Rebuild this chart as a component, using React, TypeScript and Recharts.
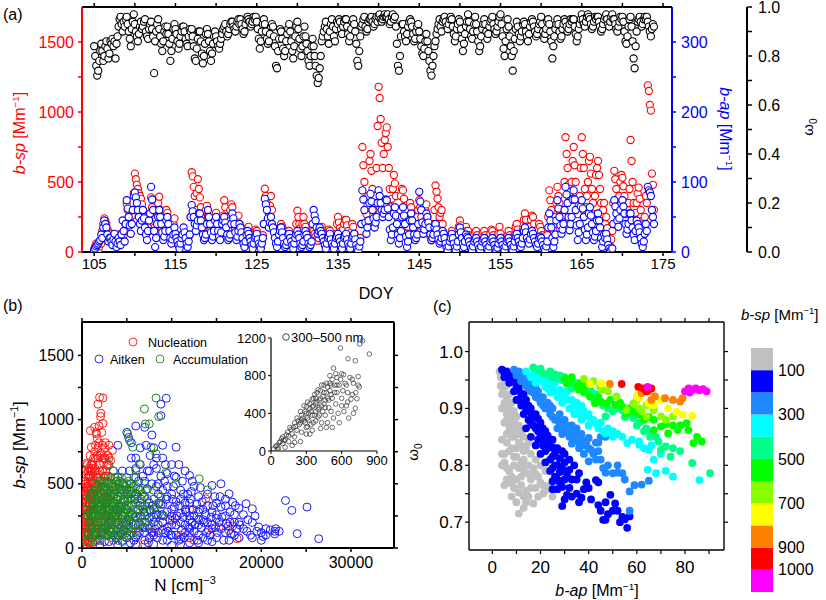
import React from "react";
import { ScatterChart, Scatter, XAxis, YAxis, BarChart, Bar } from "recharts";

const FONT = "Arial, 'Liberation Sans', Helvetica, sans-serif";

// ---------------- Panel (a): time series (8 readings per day) ----------------
const DAYS = [105,106,107,108,109,110,111,112,113,114,115,116,117,118,119,120,121,122,123,124,125,126,127,128,129,130,131,132,133,134,135,136,137,138,139,140,141,142,143,144,145,146,147,148,149,150,151,152,153,154,155,156,157,158,159,160,161,162,163,164,165,166,167,168,169,170,171,172,173];
const DAY_PARTS = [0, 0.125, 0.25, 0.375, 0.5, 0.625, 0.75, 0.875];

const BSP_A = [
  [20,40,60,30,10,40,80,60],[150,200,240,220,200,160,120,140],[130,110,100,120,110,95,90,100],[110,120,130,110,90,120,150,200],
  [345,300,250,220,200,260,300,420],[560,520,480,450,420,400,380,340],[300,250,200,230,250,180,150,200],[390,320,250,200,180,240,300,350],
  [395,300,200,160,130,180,250,300],[280,220,150,120,100,150,200,240],[130,100,60,50,40,70,100,120],[130,120,110,100,90,110,120,250],
  [570,540,465,400,300,420,520,450],[390,320,250,200,180,240,300,330],[250,200,150,120,100,150,200,230],[280,230,180,150,120,180,230,260],
  [370,320,250,200,155,220,300,340],[320,260,200,160,130,190,260,200],[180,150,120,100,80,120,150,170],[180,140,100,70,40,90,140,160],
  [150,110,80,60,40,80,120,200],[452,400,350,300,270,330,400,300],[180,150,120,100,80,120,150,170],[200,180,150,110,80,100,120,150],
  [150,120,100,80,60,90,120,200],[295,250,200,170,155,200,250,200],[180,140,100,80,60,100,140,160],[150,130,110,90,80,100,130,140],
  [180,150,120,90,60,100,140,160],[150,120,100,80,60,90,130,200],[250,210,170,150,130,160,200,230],[230,190,150,110,80,140,200,180],
  [130,100,80,60,40,70,100,200],[750,620,500,380,270,330,400,650],[700,580,450,300,180,400,600,900],[1180,1100,950,780,600,700,800,850],
  [890,750,600,450,320,380,450,550],[490,400,300,240,180,300,400,450],[440,380,300,200,130,180,250,350],[320,260,200,160,130,190,250,300],
  [370,320,250,180,130,220,300,340],[250,200,150,110,83,140,200,300],[475,430,380,320,250,280,300,200],[130,100,80,60,40,70,100,120],
  [150,120,100,80,60,90,120,180],[225,190,150,110,83,130,180,150],[150,120,100,80,60,90,120,140],[150,120,90,70,60,90,120,140],
  [150,120,100,80,60,100,130,160],[150,120,100,80,60,100,130,180],[130,100,80,70,60,80,100,120],[150,120,100,80,60,90,120,180],
  [200,160,130,100,80,120,160,230],[275,230,180,150,130,180,230,260],[250,200,150,130,110,160,200,180],[150,120,100,90,83,100,120,250],
  [440,370,300,220,155,200,250,350],[465,400,350,280,225,260,300,500],[820,700,600,480,370,430,500,650],[750,620,500,380,270,330,400,600],
  [820,700,600,450,320,400,500,650],[680,560,450,350,270,400,550,600],[650,550,450,350,270,300,350,200],[250,170,100,60,40,90,150,350],
  [580,520,450,380,320,400,500,550],[530,470,400,330,270,300,350,450],[800,650,500,350,230,280,350,420],[460,380,300,220,155,200,250,400],
  [350,1190,1150,1050,1010,560,480,300]
];

const BAP_A = [
  [3,5,8,10,12,15,17,25],[20,35,45,40,35,25,15,20],[20,15,10,18,26,15,7,12],[20,15,10,25,45,30,15,40],
  [74,62,50,38,26,40,60,80],[85,78,70,60,50,40,30,45],[60,48,35,25,17,30,45,55],[93,75,60,30,7,20,40,50],
  [60,50,40,28,17,22,30,45],[50,40,30,20,12,18,25,35],[26,20,15,10,5,12,20,25],[35,28,20,12,7,15,25,50],
  [67,58,50,40,30,38,45,55],[55,45,35,25,17,20,25,40],[60,50,40,28,17,22,30,45],[50,40,30,22,17,28,40,45],
  [50,42,35,25,17,20,25,40],[55,48,40,28,17,22,30,40],[35,28,20,12,7,15,25,30],[26,20,15,10,5,12,20,22],
  [26,18,12,8,5,12,20,40],[76,68,60,48,35,42,50,40],[35,28,20,12,7,15,25,30],[35,28,20,12,7,10,15,25],
  [26,20,15,10,5,12,20,25],[30,25,20,12,7,10,15,25],[30,25,20,12,7,10,15,40],[60,52,45,35,26,30,35,30],
  [26,20,15,10,5,12,20,22],[26,18,12,8,5,12,20,22],[26,20,15,10,5,12,20,22],[26,18,12,8,5,12,20,22],
  [26,18,10,5,2,8,15,40],[88,75,60,42,26,35,45,70],[83,72,60,48,35,42,50,70],[88,80,70,60,50,55,60,75],
  [74,62,50,32,17,25,35,55],[64,52,40,25,12,20,30,50],[64,52,40,22,7,15,25,45],[55,45,35,25,17,20,25,40],
  [86,72,60,42,26,32,40,55],[50,42,35,25,17,20,25,35],[40,32,25,18,12,15,20,30],[26,20,12,6,2,8,15,20],
  [26,20,12,6,2,8,15,25],[35,28,20,12,7,15,25,22],[20,15,10,5,2,8,15,18],[20,15,10,5,2,8,15,18],
  [20,15,10,5,2,8,15,18],[20,15,10,5,2,6,12,18],[20,15,10,5,2,8,15,18],[20,15,10,5,2,8,15,22],
  [26,20,15,10,7,12,20,30],[35,28,20,15,12,18,26,30],[26,20,15,10,7,12,20,22],[20,15,10,5,2,8,15,35],
  [55,45,35,20,7,15,25,45],[74,62,50,38,26,32,40,60],[93,82,70,50,31,40,50,75],[88,75,60,38,17,28,40,65],
  [74,62,50,32,17,25,35,55],[64,52,40,28,17,22,30,45],[55,45,35,20,7,15,25,20],[26,18,10,5,2,3,5,40],
  [74,65,55,45,36,48,60,70],[74,65,55,40,26,32,40,55],[55,45,35,25,17,30,45,40],[35,28,20,12,7,15,26,40],
  [30,93,88,85,80,60,50,40]
];

const OMEGA_A = [
  [0.84,0.80,0.76,0.72,0.74,0.78,0.82,0.85],[0.82,0.78,0.80,0.84,0.86,0.83,0.79,0.81],[0.86,0.85,0.87,0.84,0.86,0.79,0.85,0.88],
  [0.92,0.95,0.96,0.93,0.90,0.94,0.92,0.95],[0.96,0.93,0.90,0.87,0.84,0.91,0.94,0.97],[0.93,0.90,0.88,0.86,0.89,0.92,0.94,0.91],
  [0.92,0.94,0.95,0.90,0.88,0.87,0.91,0.93],[0.94,0.91,0.88,0.73,0.86,0.90,0.93,0.95],[0.91,0.88,0.85,0.82,0.86,0.90,0.92,0.89],
  [0.92,0.89,0.85,0.78,0.82,0.87,0.91,0.93],[0.91,0.89,0.86,0.83,0.85,0.88,0.90,0.92],[0.92,0.90,0.87,0.85,0.84,0.88,0.91,0.90],
  [0.91,0.88,0.84,0.79,0.78,0.83,0.87,0.90],[0.90,0.86,0.81,0.77,0.80,0.85,0.89,0.91],[0.89,0.86,0.82,0.78,0.81,0.85,0.88,0.90],
  [0.88,0.86,0.84,0.83,0.85,0.87,0.89,0.91],[0.92,0.93,0.90,0.88,0.89,0.91,0.93,0.94],[0.94,0.92,0.91,0.90,0.92,0.94,0.95,0.93],
  [0.95,0.93,0.91,0.89,0.90,0.93,0.95,0.96],[0.95,0.94,0.92,0.93,0.94,0.96,0.95,0.96],[0.94,0.91,0.87,0.83,0.86,0.90,0.93,0.95],
  [0.93,0.90,0.87,0.85,0.86,0.89,0.92,0.93],[0.92,0.88,0.84,0.76,0.75,0.82,0.87,0.91],[0.90,0.87,0.83,0.80,0.82,0.86,0.89,0.91],
  [0.93,0.90,0.86,0.82,0.79,0.84,0.88,0.92],[0.94,0.91,0.87,0.83,0.80,0.84,0.88,0.92],[0.88,0.85,0.82,0.78,0.76,0.80,0.84,0.87],
  [0.84,0.80,0.76,0.72,0.69,0.71,0.75,0.80],[0.86,0.88,0.90,0.92,0.94,0.91,0.88,0.85],[0.90,0.93,0.95,0.92,0.88,0.86,0.91,0.94],
  [0.93,0.95,0.94,0.91,0.89,0.92,0.94,0.95],[0.95,0.92,0.89,0.86,0.88,0.91,0.94,0.95],[0.93,0.90,0.85,0.78,0.76,0.82,0.88,0.92],
  [0.93,0.95,0.96,0.92,0.90,0.91,0.94,0.95],[0.95,0.96,0.94,0.92,0.93,0.95,0.96,0.94],[0.96,0.97,0.95,0.94,0.95,0.96,0.97,0.96],
  [0.96,0.97,0.95,0.93,0.94,0.96,0.97,0.95],[0.96,0.92,0.85,0.76,0.74,0.80,0.88,0.93],[0.93,0.90,0.88,0.86,0.89,0.92,0.94,0.95],
  [0.94,0.92,0.89,0.86,0.87,0.90,0.92,0.93],[0.90,0.87,0.84,0.81,0.80,0.83,0.86,0.89],[0.86,0.82,0.78,0.74,0.72,0.76,0.80,0.84],
  [0.86,0.89,0.91,0.93,0.95,0.92,0.90,0.94],[0.95,0.96,0.94,0.92,0.91,0.93,0.95,0.96],[0.95,0.92,0.89,0.86,0.88,0.91,0.93,0.95],
  [0.94,0.91,0.87,0.82,0.85,0.89,0.92,0.94],[0.97,0.94,0.91,0.88,0.87,0.90,0.93,0.96],[0.93,0.90,0.86,0.82,0.84,0.88,0.91,0.93],
  [0.95,0.93,0.90,0.87,0.89,0.92,0.94,0.95],[0.96,0.93,0.91,0.89,0.90,0.92,0.94,0.96],[0.97,0.93,0.88,0.83,0.80,0.86,0.91,0.95],
  [0.92,0.88,0.84,0.80,0.74,0.82,0.87,0.91],[0.94,0.92,0.89,0.86,0.88,0.90,0.93,0.94],[0.93,0.90,0.88,0.86,0.89,0.92,0.94,0.95],
  [0.94,0.92,0.90,0.88,0.89,0.91,0.93,0.94],[0.96,0.93,0.90,0.87,0.89,0.91,0.94,0.95],[0.93,0.90,0.86,0.79,0.84,0.88,0.91,0.93],
  [0.95,0.93,0.90,0.87,0.88,0.91,0.93,0.95],[0.94,0.92,0.90,0.91,0.93,0.95,0.94,0.95],[0.95,0.92,0.89,0.86,0.88,0.91,0.93,0.95],
  [0.97,0.95,0.93,0.92,0.94,0.96,0.97,0.96],[0.95,0.93,0.91,0.92,0.94,0.96,0.95,0.96],[0.96,0.94,0.92,0.90,0.91,0.93,0.95,0.96],
  [0.97,0.95,0.93,0.92,0.94,0.96,0.97,0.95],[0.95,0.93,0.91,0.90,0.92,0.94,0.96,0.95],[0.96,0.94,0.90,0.86,0.85,0.88,0.92,0.95],
  [0.96,0.92,0.86,0.79,0.75,0.84,0.90,0.94],[0.95,0.96,0.94,0.92,0.93,0.95,0.96,0.95],[0.96,0.94,0.92,0.90,0.88,0.91,0.93,0.92]
];

const A_X_TICKS = [105,110,115,120,125,130,135,140,145,150,155,160,165,170,175];
const A_SP_TICKS = [0,250,500,750,1000,1250,1500];
const A_AP_TICKS = [0,50,100,150,200,250,300];
const A_W_TICKS = [0,0.1,0.2,0.3,0.4,0.5,0.6,0.7,0.8,0.9,1.0];

// ---------------- Panel (b): b-sp vs N ----------------
const NUC = [
  [300,50],[500,120],[700,200],[400,300],[900,350],[600,450],[1100,500],[800,550],[1200,650],[1500,600],
  [1300,400],[1000,250],[1700,300],[2000,450],[1600,150],[2200,200],[2500,350],[1800,550],[2300,600],[2600,700],
  [1400,750],[1700,850],[1900,950],[1600,900],[2100,1050],[2330,1168],[1960,1173],[1780,1120],[2070,1023],[2330,970],
  [1400,940],[930,914],[1600,888],[1040,785],[1300,700],[2800,650],[3000,500],[2700,250],[3300,180],[3600,420],
  [1100,650],[900,600],[500,400],[300,250],[200,150],[700,50],[1200,80],[2000,60],[2900,100],[3500,60],
  [4000,300],[4500,200],[5000,80],[6000,150],[7000,30],[8000,120],[9000,200],[10100,215],[11000,100],[12000,300],
  [13800,383],[14500,150],[15300,163],[16400,137],[17300,72],[16800,170],[12500,60],[1500,470],[2800,450],[1000,180],
  [600,650],[2500,780],[3200,680],[1900,320],[2400,520],[3100,300],[2300,800],[1800,700],[800,280],[1400,220],
  [400,520],[700,380],[1200,300],[1500,380],[2100,280],[2600,560],[3400,760],[3000,800],[1000,420],[600,180],
  [150,80],[250,200],[350,350],[450,500],[550,250],[650,550],[750,150],[850,450],[950,300],[1050,600],
  [1150,200],[1250,520],[1350,330],[1450,620],[1550,260],[1650,480],[1750,180],[1850,400],[1950,650],[2050,300],
  [2150,520],[2250,380],[2350,700],[2450,240],[2550,450],[2650,600],[2750,160],[2850,380],[2950,560],[3050,220],
  [200,420],[300,600],[400,180],[500,660],[600,320],[700,480],[800,120],[900,720],[1000,560],[1100,380],
  [1200,540],[1300,160],[1400,440],[1500,700],[1600,340],[1700,580],[1800,120],[1900,480],[2000,720],[2100,160],
  [2200,420],[2300,280],[2400,660],[2500,100],[2600,400],[2700,520],[2800,260],[2900,720],[3000,380],[3200,450],
  [120,30],[250,100],[380,60],[520,30],[680,100],[820,40],[1000,80],[1150,40],[1300,120],[1600,60],
  [150,320],[200,470],[250,120],[300,380],[350,520],[400,230],[450,420],[500,610],[550,160],[600,350],
  [650,500],[700,280],[750,440],[800,620],[850,200],[900,380],[950,520],[1000,300],[1050,460],[1100,620],
  [1150,240],[1200,420],[1250,560],[1300,340],[150,200],[200,300],[250,420],[300,160],[350,260],[400,440],
  [450,90],[500,300],[550,480],[600,220],[650,400],[700,600],[750,100],[800,330],[850,560],[900,160],
  [950,420],[1000,650],[1100,160],[1200,320],[1300,480],[1400,600],[1500,800],[1700,720],[1900,820],[2200,900],
  [2500,700],[2700,560],[2900,640],[1600,550],[2000,600],[2400,480],[3000,700],[2600,820],[1800,780],[2100,740]
];

const AIT = [
  [1500,100],[2500,50],[3000,200],[3500,350],[4000,150],[4500,450],[5000,300],[5000,900],[5200,860],[5500,700],
  [6000,550],[6000,950],[6500,250],[6500,650],[7000,940],[7000,400],[7150,800],[7500,150],[7500,600],[8000,300],
  [8000,780],[8500,500],[8800,1120],[8800,1030],[9400,1166],[9000,200],[9000,700],[9500,400],[10000,100],[10000,300],
  [10500,785],[10500,550],[11000,200],[11000,450],[11500,350],[12000,565],[12000,150],[12500,250],[13000,400],[13000,100],
  [13500,300],[14000,200],[14500,487],[14500,50],[15000,350],[15500,500],[15500,150],[16000,250],[16400,422],[16800,357],
  [17000,100],[17500,200],[18000,150],[18300,345],[19000,305],[19000,80],[19700,163],[20000,120],[20500,150],[21000,140],
  [21600,150],[22000,130],[22700,370],[23400,293],[24000,111],[25100,319],[26400,72],[3000,50],[4000,20],[6000,80],
  [8000,30],[10000,20],[12000,40],[2000,20],[5500,150],[7000,250],[8500,120],[9500,60],[11000,70],[13000,180],
  [6000,420],[7500,350],[9000,450],[4500,600],[5500,500],[3500,600],[4000,800],[10000,650],[11500,600],[12500,480],
  [14000,420],[16000,380],[17500,310],[15000,80],[18500,220],[20000,60],[7000,120],[8000,200],[12000,250],[10500,180],
  [6500,330],[8500,260],[9500,160],[11500,120],[13500,220],[14500,280],[16500,200],[5000,120],[7000,520],[9000,340],
  [11000,380],[12000,80],[15000,230],[17000,260],[19500,130],[21500,110],[6000,700],[8000,650],[9500,580],[4000,250],
  [2500,150],[3000,300],[3500,100],[4000,400],[4500,250],[5000,80],[5500,330],[6000,180],[6500,450],[7000,60],
  [7500,230],[8000,380],[8500,180],[9000,60],[9500,280],[10000,420],[10500,100],[11000,270],[11500,180],[12000,350],
  [12500,130],[13000,280],[13500,80],[14000,330],[14500,180],[15000,260],[15500,320],[16000,120],[16500,280],[17000,200],
  [3200,400],[3800,260],[4300,120],[4800,360],[5300,220],[5800,60],[6300,300],[6800,160],[7300,460],[7800,120],
  [8300,260],[8800,340],[9300,120],[9800,220],[10300,320],[10800,60],[11300,240],[11800,420],[12300,200],[12800,340],
  [13300,160],[13800,260],[14300,100],[14800,400],[15300,200],[15800,60],[16300,170],[17300,150],[18000,260],[18800,100],
  [5000,500],[6000,620],[6800,560],[7600,720],[8300,620],[9200,520],[10200,480],[11200,520],[12200,440],[13200,470],
  [9000,800],[8300,700],[7800,880],[6500,780],[5500,820],[10800,650],[3500,480],[2800,350],[2200,120],[4500,50],
  [6000,30],[8000,100],[10000,180],[12000,220],[14000,60],[16000,330],[17500,80],[19000,200],[20500,100],[21500,130],
  [7000,330],[8500,420],[10500,360],[11500,300],[13000,220],[9500,480],[4000,550],[5500,420],[6500,180],[7500,80],
  [2600,250],[3100,130],[3600,420],[4100,320],[4600,140],[5100,420],[5600,260],[6100,100],[6600,380],[7100,200],
  [7600,300],[8100,150],[8600,350],[9100,250],[9600,130],[10100,380],[10600,250],[11100,140],[11600,280],[12100,380],
  [12600,180],[13100,300],[13600,200],[14100,140],[14600,330],[15100,120],[15600,240],[16100,190],[16600,110],[17100,330],
  [3300,200],[3900,80],[4400,320],[4900,200],[5400,40],[5900,380],[6400,120],[6900,280],[7400,40],[7900,330],
  [8400,80],[8900,260],[9400,380],[9900,100],[10400,230],[10900,330],[11400,80],[11900,160],[12400,300],[12900,60],
  [13400,360],[13900,120],[14400,240],[14900,160],[15400,400],[16400,60],[17600,180],[18400,130],[19300,250],[20200,90],
  [5300,600],[6300,520],[7300,600],[8300,480],[9300,650],[10300,560],[11300,420],[12300,520],[7800,500],[8800,560],
  [4000,100],[5000,180],[6000,240],[7000,160],[8000,240],[9000,140],[10000,250],[11000,30],[12000,120],[13000,40]
];

const ACC = [
  [500,50],[800,150],[1000,250],[1200,100],[1500,300],[1800,200],[2000,400],[2200,150],[2500,300],[2800,450],
  [3000,250],[3200,550],[3500,350],[3800,200],[4000,500],[4200,300],[4500,420],[4800,250],[5000,550],[5200,150],
  [5500,380],[6000,250],[6000,480],[6500,350],[7000,200],[7000,500],[7500,300],[8000,450],[8500,350],[9000,250],
  [9370,590],[10480,500],[13070,539],[14000,453],[8260,1168],[8550,1023],[6960,1083],[7070,966],[7500,966],[5100,888],
  [5300,837],[5660,785],[7700,785],[8260,733],[6400,655],[6000,603],[1500,500],[2500,550],[1000,400],[3000,650],
  [3500,600],[600,300],[2000,80],[3000,100],[4000,60],[1500,50],[2500,200],[3500,150],[4500,100],[5500,200],
  [800,350],[1700,420],[2700,380],[3700,480],[4700,380],[5700,300],[6700,420],[1300,200],[2300,280],[3300,420],
  [4300,220],[5300,450],[6300,180],[7300,380],[3800,520],[4400,550],[2800,320],[1200,320],[2000,250],[3000,380],
  [4000,350],[5000,330],[2600,480],[3600,260],[1800,350],[4600,280],[5800,400],[3200,220],[2200,350],[4200,430],
  [600,120],[700,250],[900,400],[1100,180],[1300,350],[1400,100],[1600,250],[1700,500],[1900,150],[2100,330],
  [2200,480],[2400,120],[2600,250],[2700,400],[2900,180],[3100,320],[3300,500],[3400,80],[3600,240],[3800,380],
  [3900,130],[4100,470],[4300,290],[4500,170],[4600,500],[4800,380],[5000,220],[5200,330],[5400,100],[5600,440],
  [5900,180],[6200,300],[6600,250],[6900,400],[7200,280],[7800,220],[8200,320],[8800,400],[1000,50],[1500,180],
  [2000,300],[2500,420],[3000,150],[3500,280],[4000,400],[4500,350],[5000,450],[5500,260],[6000,350],[2300,220],
  [1700,380],[1200,250],[800,200],[2800,520],[3300,250],[3700,100],[4200,150],[4700,200],[5200,520],[5800,550],
  [2600,350],[3200,380],[3600,420],[4000,200],[4400,250],[1400,420],[1900,250],[2400,380],[2900,280],[3400,320],
  [3900,300],[4400,460],[4900,300],[5400,380],[1100,300],[1600,150],[2100,200],[2600,120],[3100,450],[3600,350],
  [700,100],[900,220],[1100,420],[1300,280],[1500,120],[1700,320],[1900,460],[2100,100],[2300,380],[2500,520],
  [2700,180],[2900,420],[3100,240],[3300,120],[3500,450],[3700,300],[3900,520],[4100,180],[4300,380],[4500,60],
  [4700,450],[4900,150],[5100,380],[5300,260],[5500,120],[5700,480],[6100,420],[6400,200],[6800,300],[7400,180],
  [800,280],[1000,150],[1200,380],[1400,250],[1600,450],[1800,100],[2000,520],[2200,250],[2400,450],[2600,180],
  [2800,100],[3000,320],[3200,150],[3400,480],[3600,180],[3800,450],[4000,280],[4200,520],[4400,130],[4600,320],
  [4800,480],[5000,100],[5200,240],[5400,500],[5600,340],[5800,240],[6000,130],[6300,460],[6700,320],[7100,450],
  [1300,450],[1700,200],[2100,420],[2500,250],[2900,500],[3300,350],[3700,550],[4100,330],[4500,500],[4900,420],
  [1500,380],[1900,320],[2300,150],[2700,300],[3100,180],[3500,400],[3900,220],[4300,460],[4700,280],[5100,180]
];

const INSET = [
  [20,20],[40,50],[60,40],[80,100],[100,80],[100,150],[120,120],[140,200],[150,100],[160,250],
  [180,180],[200,300],[200,150],[220,350],[220,220],[240,280],[250,420],[260,200],[270,350],[280,480],
  [290,300],[300,400],[300,250],[310,520],[320,330],[330,450],[340,280],[350,550],[350,380],[360,480],
  [370,600],[380,320],[380,420],[390,520],[400,650],[400,360],[410,460],[420,560],[430,700],[430,300],
  [440,420],[450,620],[450,500],[460,380],[470,720],[480,560],[480,300],[490,460],[500,800],[500,640],
  [510,420],[520,560],[530,880],[530,350],[540,700],[550,500],[560,780],[560,620],[570,400],[580,300],
  [590,1093],[600,820],[600,560],[617,810],[630,720],[640,480],[650,620],[654,980],[660,350],[680,550],
  [700,400],[716,958],[716,454],[730,554],[740,790],[750,680],[753,1136],[778,1171],[835,1030],[690,760],
  [620,420],[580,700],[520,250],[470,250],[330,180],[250,100],[180,60],[120,40],[60,20],[300,180],
  [420,240],[200,90],[350,220],[260,330],[310,260],[360,300],[410,380],[460,540],[510,700],[380,560],
  [50,60],[70,90],[90,130],[110,110],[130,170],[150,160],[170,230],[190,250],[210,260],[230,320],
  [250,300],[260,380],[280,320],[290,420],[300,470],[310,350],[320,400],[330,500],[340,420],[350,470],
  [360,560],[370,380],[380,500],[390,620],[400,440],[410,540],[420,640],[430,480],[440,580],[450,700],
  [460,460],[470,620],[480,680],[490,540],[500,720],[510,600],[520,760],[540,620],[550,820],[560,700],
  [590,760],[610,640],[640,700],[670,780],[700,720],[720,620],[600,480],[650,520],[690,600],[740,700]
];

const B_X_TICKS = [0,5000,10000,15000,20000,25000,30000];
const B_Y_TICKS = [0,250,500,750,1000,1250,1500];
const INSET_X_TICKS = [0,300,600,900];
const INSET_Y_TICKS = [0,400,800,1200];

// ---------------- Panel (c): omega vs b-ap, coloured by b-sp class ----------------
const C_GRAY = [[3,0.965],[4,0.958],[5,0.95],[3.5,0.94],[6,0.94],[4,0.925],[7,0.925],[5,0.91],[8,0.91],[4,0.9],[9,0.895],[6,0.89],[10,0.885],[5,0.875],[8,0.87],[11,0.87],[7,0.86],[12,0.86],[4,0.845],[9,0.85],[13,0.85],[6,0.84],[11,0.84],[15,0.84],[8,0.83],[13,0.825],[5,0.82],[10,0.815],[16,0.82],[12,0.805],[18,0.81],[4,0.8],[9,0.8],[15,0.8],[20,0.8],[7,0.79],[13,0.79],[18,0.785],[22,0.79],[10,0.775],[16,0.775],[8,0.768],[12,0.765],[20,0.77],[14,0.755],[18,0.76],[24,0.765],[11,0.752],[21,0.75],[25,0.745],[15,0.745],[17,0.733],[13,0.725],[11,0.715],[6,0.795],[5,0.765],
  [3.5,0.955],[4.5,0.935],[6,0.92],[5,0.9],[7,0.9],[6,0.88],[8,0.885],[9,0.875],[7,0.87],[10,0.86],[6,0.855],[8,0.85],[11,0.855],[10,0.83],[12,0.835],[14,0.83],[7,0.825],[9,0.815],[13,0.81],[14,0.8],[17,0.795],[11,0.795],[8,0.78],[15,0.785],[19,0.78],[12,0.78],[21,0.765],[16,0.76],[9,0.76],[13,0.745],[19,0.745],[22,0.755],[10,0.735],[14,0.735],[5,0.805],[4,0.82],[6,0.775],[8,0.745]];
const C_BLUE = [[4,0.968],[6,0.965],[8,0.96],[5,0.955],[9,0.95],[7,0.945],[11,0.94],[9,0.93],[13,0.925],[10,0.915],[14,0.915],[12,0.905],[16,0.9],[13,0.89],[18,0.89],[15,0.88],[20,0.875],[17,0.87],[14,0.865],[19,0.86],[22,0.86],[16,0.85],[21,0.845],[25,0.845],[18,0.835],[23,0.83],[27,0.83],[20,0.82],[25,0.815],[30,0.82],[22,0.805],[27,0.8],[32,0.81],[24,0.79],[29,0.795],[34,0.8],[26,0.78],[31,0.785],[25,0.772],[36,0.786],[28,0.77],[33,0.775],[39,0.77],[25,0.758],[27,0.758],[38,0.758],[30,0.74],[33,0.745],[37,0.743],[43,0.774],[44,0.77],[44,0.73],[45,0.72],[46,0.704],[48,0.714],[49,0.748],[47,0.704],[51,0.733],[53,0.7],[54,0.709],[55,0.705],[56,0.69],[29,0.728],
  [5,0.962],[7,0.955],[8,0.948],[10,0.94],[11,0.932],[12,0.925],[11,0.915],[13,0.91],[15,0.905],[14,0.895],[16,0.892],[17,0.885],[19,0.882],[16,0.875],[18,0.865],[21,0.865],[20,0.855],[23,0.852],[19,0.845],[23,0.84],[21,0.835],[25,0.832],[22,0.825],[26,0.822],[29,0.825],[24,0.81],[28,0.812],[26,0.8],[30,0.805],[25,0.795],[28,0.788],[32,0.792],[27,0.775],[30,0.775],[35,0.775],[29,0.762],[32,0.76],[35,0.75],[40,0.76],[31,0.748],[36,0.735],[41,0.74],[47,0.735],[50,0.72],[52,0.72],[57,0.71]];
const C_DODGER = [[9,0.968],[11,0.965],[13,0.962],[12,0.955],[15,0.95],[14,0.94],[17,0.94],[16,0.93],[19,0.93],[18,0.92],[21,0.92],[20,0.91],[23,0.91],[22,0.9],[25,0.9],[24,0.89],[28,0.89],[26,0.88],[30,0.88],[28,0.87],[33,0.87],[30,0.86],[35,0.865],[32,0.85],[37,0.855],[35,0.845],[40,0.848],[38,0.835],[43,0.84],[45,0.85],[47,0.85],[41,0.827],[40,0.807],[44,0.84],[47,0.787],[50,0.786],[52,0.787],[54,0.786],[57,0.754],[57,0.72],[62,0.766],[65,0.773],[36,0.84],[42,0.82],[34,0.855],
  [10,0.958],[12,0.948],[14,0.948],[15,0.935],[17,0.928],[18,0.935],[19,0.918],[21,0.905],[23,0.9],[24,0.905],[25,0.885],[27,0.88],[29,0.875],[27,0.865],[31,0.87],[32,0.86],[29,0.855],[34,0.845],[37,0.845],[39,0.84],[33,0.838],[36,0.83],[40,0.83],[38,0.82],[44,0.825],[45,0.81],[48,0.8],[43,0.81],[52,0.8],[55,0.775],[59,0.765],[46,0.795]];
const C_CYAN = [[14,0.965],[17,0.96],[19,0.955],[18,0.945],[21,0.948],[22,0.938],[25,0.94],[24,0.928],[28,0.933],[27,0.92],[30,0.922],[29,0.91],[33,0.915],[32,0.9],[35,0.91],[34,0.89],[38,0.895],[37,0.88],[39,0.886],[41,0.88],[40,0.87],[43,0.874],[44,0.865],[46,0.86],[47,0.856],[50,0.85],[54,0.85],[56,0.839],[61,0.836],[61,0.842],[63,0.83],[65,0.827],[67,0.81],[68,0.786],[64.5,0.792],[75,0.78],[86,0.774],[26,0.945],[31,0.93],[36,0.9],
  [16,0.955],[20,0.952],[23,0.95],[23,0.935],[26,0.93],[29,0.925],[31,0.915],[34,0.905],[37,0.905],[36,0.89],[40,0.89],[42,0.88],[45,0.875],[48,0.865],[50,0.86],[52,0.855],[58,0.845],[66,0.835],[70,0.82],[72,0.79]];
const C_SPRING = [[17,0.972],[19,0.968],[21,0.962],[23,0.96],[25,0.955],[27,0.953],[29,0.95],[31,0.945],[34,0.944],[33,0.935],[36,0.935],[38,0.928],[40,0.925],[42,0.917],[44,0.912],[46,0.905],[47,0.886],[50,0.895],[54,0.897],[56,0.89],[58.5,0.883],[61,0.875],[64,0.865],[65.5,0.85],[69,0.842],[72,0.833],[70,0.827],[74,0.815],[83,0.804],[90.4,0.786],[52,0.9],[66,0.858],
  [20,0.97],[24,0.965],[26,0.96],[28,0.958],[30,0.955],[32,0.95],[35,0.945],[37,0.94],[41,0.93],[43,0.925],[48,0.9],[55,0.885],[60,0.87],[63,0.86],[68,0.85],[75,0.83],[78,0.825]];
const C_GREEN = [[30,0.953],[32,0.95],[31,0.944],[35,0.94],[36,0.933],[38,0.93],[40.5,0.921],[42.6,0.909],[45,0.912],[47.4,0.909],[51,0.906],[54,0.903],[55.7,0.891],[58.5,0.894],[61,0.889],[63,0.88],[67,0.88],[67,0.862],[70,0.868],[73,0.856],[77,0.862],[80.7,0.874],[81.4,0.862],[83.5,0.839],[87,0.842],[75,0.87],
  [33,0.955],[37,0.945],[39,0.94],[44,0.92],[49,0.915],[53,0.91],[57,0.9],[60,0.895],[65,0.885],[72,0.872],[78,0.87],[85,0.85]];
const C_CHART = [[38,0.952],[42,0.948],[44.7,0.938],[46,0.933],[51.6,0.921],[55.7,0.897],[58.5,0.909],[60,0.915],[61,0.9],[64,0.906],[64,0.886],[67,0.897],[70,0.886],[72,0.88],[75,0.886],[62,0.895],[48,0.93]];
const C_YELLOW = [[40.5,0.943],[45.4,0.944],[60,0.922],[61,0.918],[64.8,0.909],[67,0.906],[70,0.915],[73,0.9],[76.5,0.894],[79,0.889],[83,0.887]];
const C_ORANGE = [[48.8,0.943],[62,0.927],[64.8,0.93],[66,0.915],[67.5,0.921],[71.7,0.918],[75,0.915],[78,0.912],[79,0.918]];
const C_RED = [[53.7,0.943],[60.6,0.938],[62.7,0.935],[64,0.93],[66,0.935]];
const C_MAGENTA = [[64.5,0.938],[80,0.93],[81.5,0.935],[83,0.933],[84.5,0.935],[86,0.932],[87.5,0.934],[89,0.93],[82,0.928]];

const C_CLASSES = [C_GRAY, C_BLUE, C_DODGER, C_CYAN, C_SPRING, C_GREEN, C_CHART, C_YELLOW, C_ORANGE, C_RED, C_MAGENTA];
const C_COLORS = ["#c0c0c0", "#0000ff", "#1e88ff", "#00ffff", "#00ff88", "#00ff00", "#88ff00", "#ffff00", "#ff8000", "#ff0000", "#ff00ff"];
const C_X_TICKS = [0,10,20,30,40,50,60,70,80,90];
const C_Y_TICKS = [0.7,0.75,0.8,0.85,0.9,0.95,1.0];

const CB_TICKS = [1, 2, 4, 6, 8, 10];
const CB_LABELS = ["1000", "900", "700", "500", "300", "100"];

// ---------------- helpers ----------------
const toXY = (arr: number[][]) => arr.map(([x, y]) => ({ x, y }));
const dailySeries = (vals: number[][]) =>
  DAYS.flatMap((d, i) => vals[i].map((v, j) => ({ x: d + DAY_PARTS[j], y: v })));

const ring = (stroke: string, r: number, sw: number, fill: string) => (p: any) => (
  <circle cx={p.cx} cy={p.cy} r={r} fill={fill} stroke={stroke} strokeWidth={sw} />
);
const ball = (fill: string) => (p: any) => <circle cx={p.cx} cy={p.cy} r={3.9} fill={fill} stroke="none" />;

const blank = () => "";
const tickFont = (size: number, fill = "#000") => ({ fill, fontSize: size, fontFamily: FONT });

const MmSup = ({ italic, size, sup = "−1", unit = " [Mm" }: any) => (
  <>
    {italic ? <tspan fontStyle="italic">{italic}</tspan> : null}
    <tspan>{unit}</tspan>
    <tspan dy={-size * 0.4} fontSize={size * 0.62}>{sup}</tspan>
    <tspan dy={size * 0.4}>]</tspan>
  </>
);

export default function App() {
  const redA = dailySeries(BSP_A);
  const blueA = dailySeries(BAP_A);
  const blackA = dailySeries(OMEGA_A);
  const cbRow = [Object.fromEntries(C_COLORS.map((_, i) => [`s${i}`, 1]).concat([["name", "c"]]))];
  const cbOrder = [...C_COLORS].reverse();

  const abs = (left: number, top: number): React.CSSProperties => ({ position: "absolute", left, top });

  return (
    <div style={{ position: "absolute", left: 0, top: 0, width: 826, height: 600, background: "#fff", fontFamily: FONT }}>
      {/* Panel (a) */}
      <div style={abs(0, 0)}>
        <ScatterChart width={826} height={290} margin={{ top: 1, right: 0, bottom: 8, left: 0 }}>
          <XAxis xAxisId="b" type="number" dataKey="x" domain={[103.5, 176.1]} allowDataOverflow ticks={A_X_TICKS}
            tickFormatter={(v: number) => ((v - 105) % 10 === 0 ? String(v) : "")} height={30}
            axisLine={{ stroke: "#000", strokeWidth: 2 }} tickLine={{ stroke: "#000", strokeWidth: 1.5 }}
            tickSize={4} tickMargin={2} tick={tickFont(15)} interval={0} />
          <XAxis xAxisId="t" orientation="top" type="number" dataKey="x" domain={[103.5, 176.1]} allowDataOverflow ticks={A_X_TICKS}
            tickFormatter={blank} height={6} axisLine={{ stroke: "#000", strokeWidth: 2 }}
            tickLine={{ stroke: "#000", strokeWidth: 1.5 }} tickSize={4} interval={0} />
          <YAxis yAxisId="sp" type="number" dataKey="y" domain={[0, 1750]} allowDataOverflow ticks={A_SP_TICKS}
            tickFormatter={(v: number) => (v % 500 === 0 ? String(v) : "")} width={82}
            axisLine={{ stroke: "#ff0000", strokeWidth: 2 }} tickLine={{ stroke: "#ff0000", strokeWidth: 1.5 }}
            tickSize={4} tickMargin={4} tick={tickFont(16, "#ff0000")} interval={0} />
          <YAxis yAxisId="ap" orientation="right" type="number" dataKey="y" domain={[0, 350]} allowDataOverflow ticks={A_AP_TICKS}
            tickFormatter={(v: number) => (v % 100 === 0 ? String(v) : "")} width={75}
            axisLine={{ stroke: "#0000ff", strokeWidth: 2 }} tickLine={{ stroke: "#0000ff", strokeWidth: 1.5 }}
            tickSize={4} tickMargin={5} tick={tickFont(16, "#0000ff")} interval={0} />
          <YAxis yAxisId="w" orientation="right" type="number" dataKey="y" domain={[0, 1]} allowDataOverflow ticks={A_W_TICKS}
            tickFormatter={(v: number) => (Math.round(v * 10) % 2 === 0 ? v.toFixed(1) : "")} width={79}
            axisLine={{ stroke: "#000", strokeWidth: 2 }} tickLine={{ stroke: "#000", strokeWidth: 1.5 }}
            tickSize={5} tickMargin={6} tick={tickFont(16)} interval={0} />
          <Scatter xAxisId="b" yAxisId="sp" data={redA} shape={ring("#ff0000", 3.6, 1.1, "#fff")} isAnimationActive={false} />
          <Scatter xAxisId="b" yAxisId="ap" data={blueA} shape={ring("#0000ff", 3.6, 1.1, "#fff")} isAnimationActive={false} />
          <Scatter xAxisId="b" yAxisId="w" data={blackA} shape={ring("#000", 3.6, 1.1, "#fff")} isAnimationActive={false} />
        </ScatterChart>
      </div>

      {/* Panel (b) */}
      <div style={abs(0, 290)}>
        <ScatterChart width={420} height={310} margin={{ top: 26, right: 20, bottom: 22, left: 0 }}>
          <XAxis xAxisId="b" type="number" dataKey="x" domain={[0, 34800]} allowDataOverflow ticks={B_X_TICKS}
            tickFormatter={(v: number) => (v % 10000 === 0 ? String(v) : "")} height={30}
            axisLine={{ stroke: "#000", strokeWidth: 2 }} tickLine={{ stroke: "#000", strokeWidth: 1.5 }}
            tickSize={4} tickMargin={5} tick={tickFont(16)} interval={0} />
          <XAxis xAxisId="t" orientation="top" type="number" dataKey="x" domain={[0, 34800]} allowDataOverflow ticks={B_X_TICKS}
            tickFormatter={blank} height={6} axisLine={{ stroke: "#000", strokeWidth: 2 }}
            tickLine={{ stroke: "#000", strokeWidth: 1.5 }} tickSize={4} interval={0} />
          <YAxis yAxisId="l" type="number" dataKey="y" domain={[0, 1760]} allowDataOverflow ticks={B_Y_TICKS}
            tickFormatter={(v: number) => (v % 500 === 0 ? String(v) : "")} width={82}
            axisLine={{ stroke: "#000", strokeWidth: 2 }} tickLine={{ stroke: "#000", strokeWidth: 1.5 }}
            tickSize={4} tickMargin={4} tick={tickFont(16)} interval={0} />
          <YAxis yAxisId="r" orientation="right" type="number" dataKey="y" domain={[0, 1760]} allowDataOverflow ticks={B_Y_TICKS}
            tickFormatter={blank} width={6} axisLine={{ stroke: "#000", strokeWidth: 2 }}
            tickLine={{ stroke: "#000", strokeWidth: 1.5 }} tickSize={4} interval={0} />
          <Scatter xAxisId="b" yAxisId="l" data={toXY(NUC)} shape={ring("#ff1a1a", 4, 1, "none")} isAnimationActive={false} />
          <Scatter xAxisId="b" yAxisId="l" data={toXY(AIT)} shape={ring("#1a1aff", 4, 1, "none")} isAnimationActive={false} />
          <Scatter xAxisId="b" yAxisId="l" data={toXY(ACC)} shape={ring("#1e8a1e", 4, 1, "none")} isAnimationActive={false} />
        </ScatterChart>
      </div>

      {/* Inset of panel (b) */}
      <div style={abs(220, 325)}>
        <ScatterChart width={170} height={145} margin={{ top: 13, right: 13, bottom: 0, left: 0 }}>
          <XAxis type="number" dataKey="x" domain={[0, 900]} allowDataOverflow ticks={INSET_X_TICKS} height={19}
            axisLine={{ stroke: "#000", strokeWidth: 1.2 }} tickLine={{ stroke: "#000", strokeWidth: 1 }}
            tickSize={3} tickMargin={2} tick={tickFont(13)} interval={0} />
          <YAxis type="number" dataKey="y" domain={[0, 1200]} allowDataOverflow ticks={INSET_Y_TICKS} width={51}
            axisLine={{ stroke: "#000", strokeWidth: 1.2 }} tickLine={{ stroke: "#000", strokeWidth: 1 }}
            tickSize={3} tickMargin={2} tick={tickFont(13)} interval={0} />
          <Scatter data={toXY(INSET)} shape={ring("#333", 2.3, 0.7, "none")} isAnimationActive={false} />
        </ScatterChart>
      </div>

      {/* Panel (c) */}
      <div style={abs(420, 290)}>
        <ScatterChart width={320} height={310} margin={{ top: 26, right: 10, bottom: 20, left: 0 }}>
          <XAxis xAxisId="b" type="number" dataKey="x" domain={[-9.7, 96.2]} allowDataOverflow ticks={C_X_TICKS}
            tickFormatter={(v: number) => (v % 20 === 0 ? String(v) : "")} height={30}
            axisLine={{ stroke: "#000", strokeWidth: 1.4 }} tickLine={{ stroke: "#000", strokeWidth: 1.2 }}
            tickSize={4} tickMargin={7} tick={tickFont(17)} interval={0} />
          <XAxis xAxisId="t" orientation="top" type="number" dataKey="x" domain={[-9.7, 96.2]} allowDataOverflow ticks={C_X_TICKS}
            tickFormatter={blank} height={6} axisLine={{ stroke: "#000", strokeWidth: 1.4 }}
            tickLine={{ stroke: "#000", strokeWidth: 1.2 }} tickSize={4} interval={0} />
          <YAxis yAxisId="l" type="number" dataKey="y" domain={[0.651, 1.052]} allowDataOverflow ticks={C_Y_TICKS}
            tickFormatter={(v: number) => (Math.abs(v * 10 - Math.round(v * 10)) < 1e-6 ? v.toFixed(1) : "")} width={49}
            axisLine={{ stroke: "#000", strokeWidth: 1.4 }} tickLine={{ stroke: "#000", strokeWidth: 1.2 }}
            tickSize={4} tickMargin={2} tick={tickFont(17)} interval={0} />
          <YAxis yAxisId="r" orientation="right" type="number" dataKey="y" domain={[0.651, 1.052]} allowDataOverflow ticks={C_Y_TICKS}
            tickFormatter={blank} width={6} axisLine={{ stroke: "#000", strokeWidth: 1.4 }}
            tickLine={{ stroke: "#000", strokeWidth: 1.2 }} tickSize={4} interval={0} />
          {C_CLASSES.map((pts, i) => (
            <Scatter key={i} xAxisId="b" yAxisId="l" data={toXY(pts)} shape={ball(C_COLORS[i])} isAnimationActive={false} />
          ))}
        </ScatterChart>
      </div>

      {/* Colour bar of panel (c) */}
      <div style={abs(740, 340)}>
        <BarChart width={86} height={260} data={cbRow} margin={{ top: 8, right: 0, bottom: 8, left: 11 }} barCategoryGap={0}>
          <XAxis dataKey="name" hide />
          <YAxis orientation="right" type="number" domain={[0, 11]} allowDataOverflow ticks={CB_TICKS}
            tickFormatter={(v: number) => CB_LABELS[CB_TICKS.indexOf(v)]} width={53}
            axisLine={false} tickLine={false} tickSize={0} tickMargin={5} tick={tickFont(16)} interval={0} />
          {cbOrder.map((c, i) => (
            <Bar key={i} dataKey={`s${C_COLORS.length - 1 - i}`} stackId="cb" fill={c} isAnimationActive={false} />
          ))}
        </BarChart>
      </div>

      {/* Titles and labels */}
      <svg width={826} height={600} style={{ position: "absolute", left: 0, top: 0, pointerEvents: "none" }}
        fontFamily={FONT}>
        <text x={3} y={20} fontSize={16}>(a)</text>
        <text x={3} y={311} fontSize={16}>(b)</text>
        <text x={433} y={312} fontSize={16}>(c)</text>

        <text transform="translate(25,133) rotate(-90)" textAnchor="middle" fontSize={16} fill="#ff0000">
          <MmSup italic="b-sp" size={16} />
        </text>
        <text transform="translate(720,129) rotate(90)" textAnchor="middle" fontSize={16} fill="#0000ff">
          <MmSup italic="b-ap" size={16} />
        </text>
        <text transform="translate(813,127) rotate(-90)" textAnchor="middle" fontSize={15}>
          <tspan>ω</tspan><tspan dy={4} fontSize={10}>0</tspan>
        </text>
        <text x={376} y={299} textAnchor="middle" fontSize={16}>DOY</text>

        <text transform="translate(25,445) rotate(-90)" textAnchor="middle" fontSize={17}>
          <MmSup italic="b-sp" size={17} />
        </text>
        <text x={185} y={591} textAnchor="middle" fontSize={17}>
          <tspan>N [cm]</tspan>
          <tspan dy={-7} fontSize={11}>−3</tspan>
        </text>

        <circle cx={133} cy={342} r={4} fill="none" stroke="#ff1a1a" strokeWidth={0.9} />
        <text x={148} y={347} fontSize={12.5}>Nucleation</text>
        <circle cx={99} cy={359} r={4} fill="none" stroke="#1a1aff" strokeWidth={0.9} />
        <text x={110} y={364} fontSize={12.5}>Aitken</text>
        <circle cx={160} cy={359} r={4} fill="none" stroke="#1e8a1e" strokeWidth={0.9} />
        <text x={173} y={364} fontSize={12.5}>Accumulation</text>

        <circle cx={286} cy={337} r={3.3} fill="none" stroke="#333" strokeWidth={0.9} />
        <text x={291} y={342} fontSize={13}>300–500 nm</text>

        <text transform="translate(418,452) rotate(-90)" textAnchor="middle" fontSize={15}>
          <tspan>ω</tspan><tspan dy={4} fontSize={10}>0</tspan>
        </text>
        <text x={597} y={596} textAnchor="middle" fontSize={16}>
          <MmSup italic="b-ap" size={16} />
        </text>
        <text x={741} y={320} fontSize={15}>
          <MmSup italic="b-sp" size={15} />
        </text>
      </svg>
    </div>
  );
}
